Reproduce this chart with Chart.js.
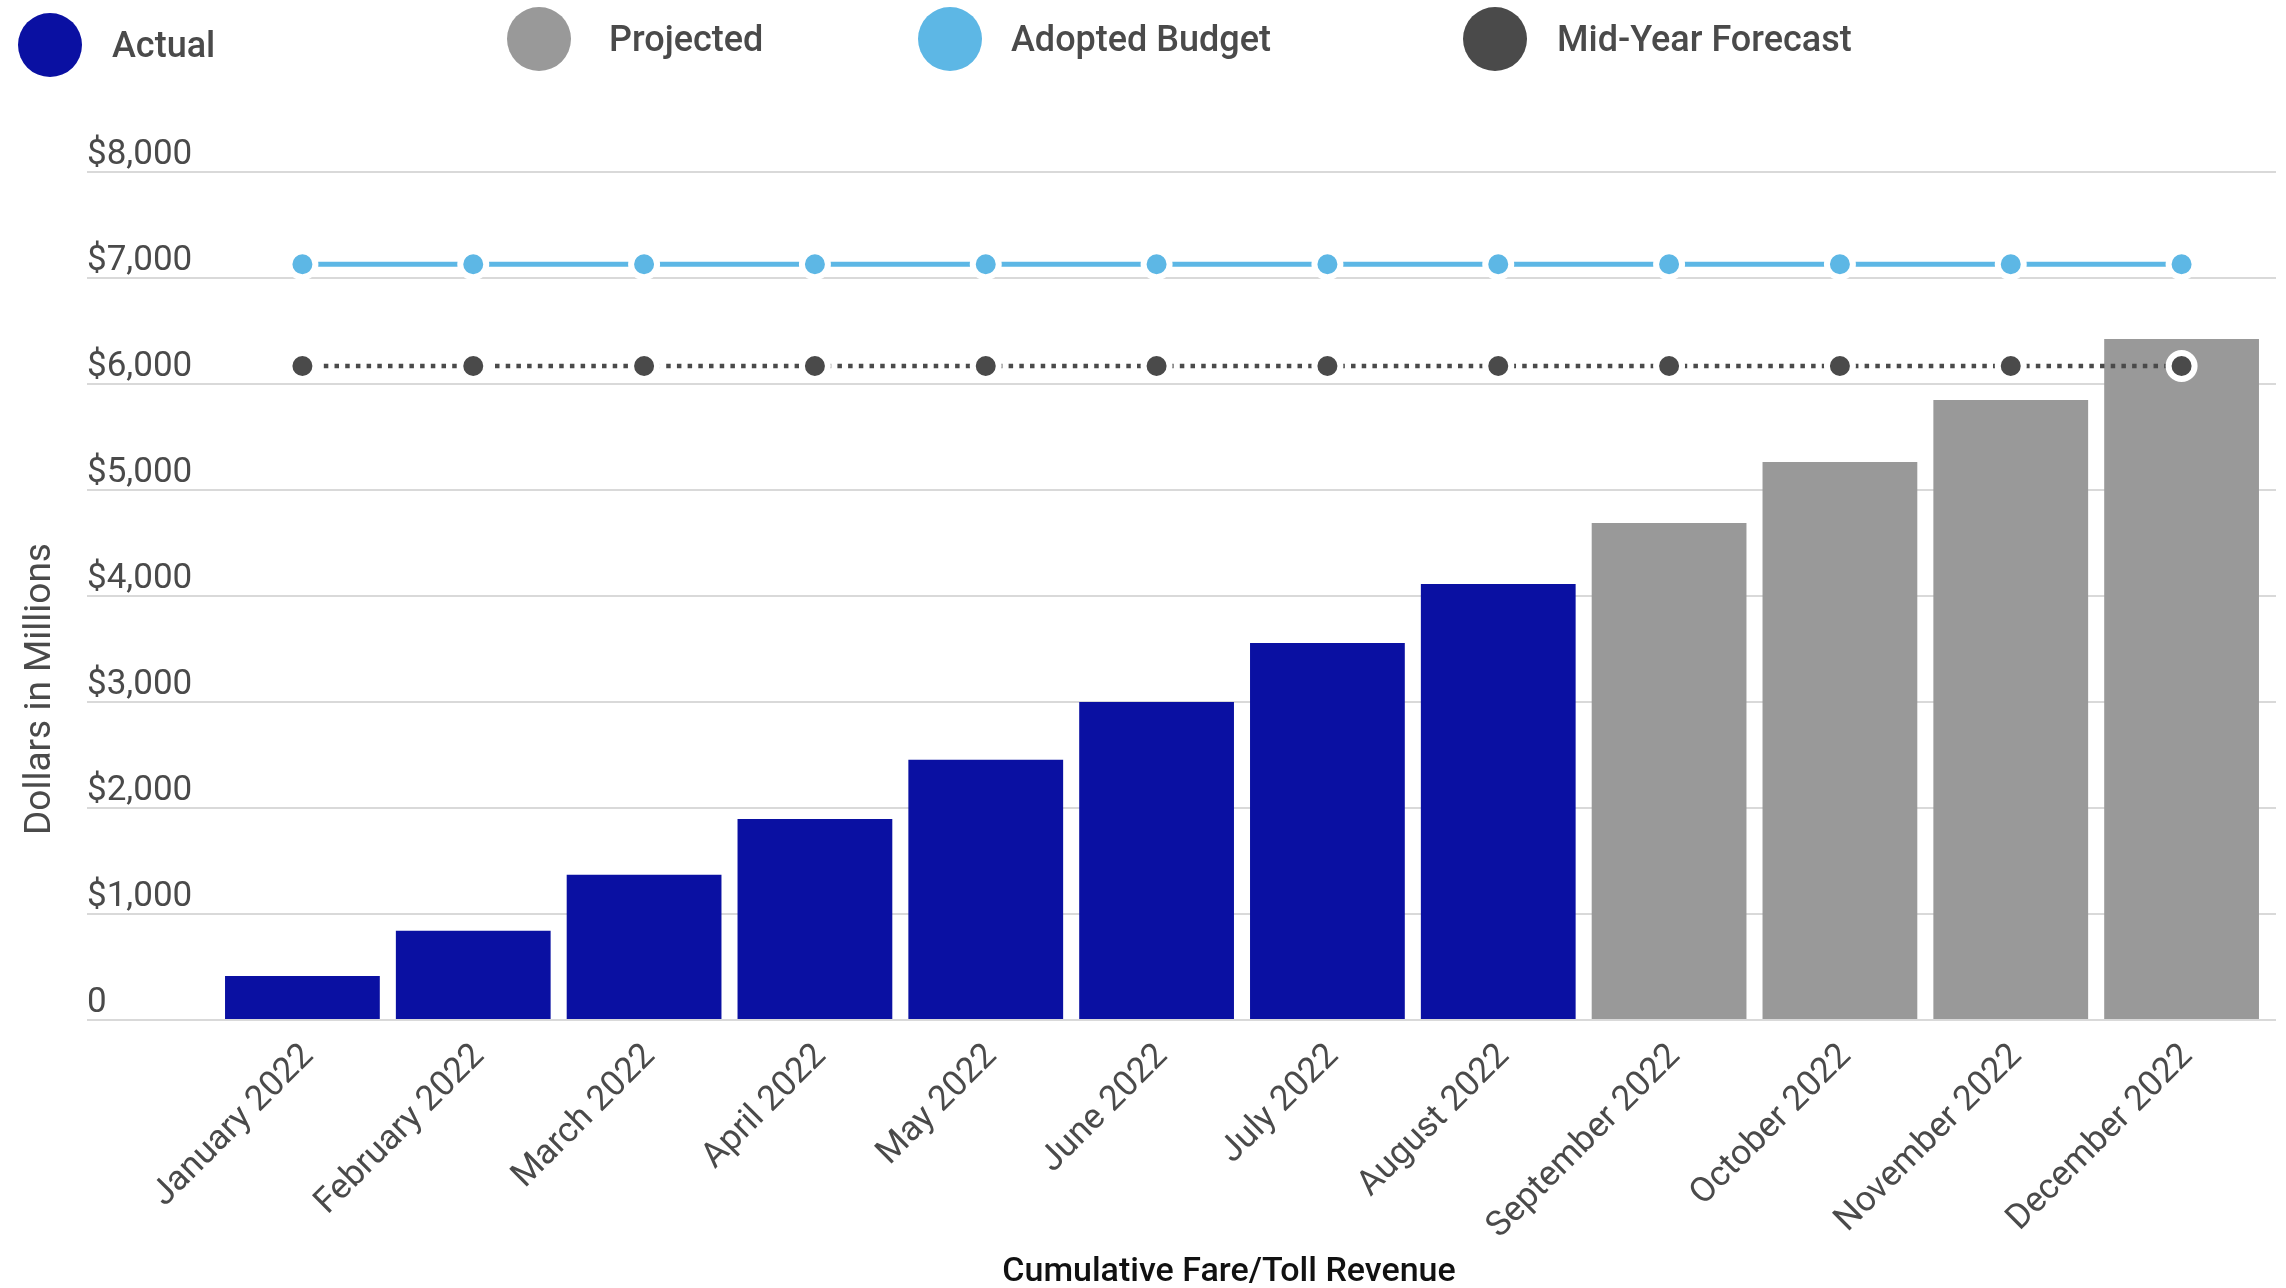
<!DOCTYPE html>
<html>
<head>
<meta charset="utf-8">
<title>Cumulative Fare/Toll Revenue</title>
<script src="https://cdn.jsdelivr.net/npm/chart.js@4.4.0/dist/chart.umd.min.js"></script>
<style>
  body { margin: 0; background: #fff; }
  .chart__wrap { position: relative; width: 2286px; height: 1288px; }
  .legend__item {
    position: absolute;
    display: flex;
    align-items: center;
    height: 64px;
    font: 500 36px Roboto, sans-serif;
    color: #4a4a4a;
    white-space: nowrap;
  }
  .legend__dot { width: 64px; height: 64px; border-radius: 50%; flex: none; }
</style>
</head>
<body>
<div class="chart__wrap">
  <div id="legend"></div>
  <canvas id="revenueChart"></canvas>
</div>
<script>
//////// Data ///////////////////
const months = [
  "January 2022",
  "February 2022",
  "March 2022",
  "April 2022",
  "May 2022",
  "June 2022",
  "July 2022",
  "August 2022",
  "September 2022",
  "October 2022",
  "November 2022",
  "December 2022",
];
const actual = [415, 843, 1371, 1896, 2456, 3000, 3557, 4113, null, null, null, null];
const projected = [null, null, null, null, null, null, null, null, 4689, 5264, 5849, 6425];
const adoptedBudget = [7130, 7130, 7130, 7130, 7130, 7130, 7130, 7130, 7130, 7130, 7130, 7130];
const midYearForecast = [6170, 6170, 6170, 6170, 6170, 6170, 6170, 6170, 6170, 6170, 6170, 6170];
const yTickValues = [0, 1000, 2000, 3000, 4000, 5000, 6000, 7000, 8000];

const textColor = "#4a4a4a";
const gridColor = "#d9d9d9";

//////// Legend (html, fixed slots) ///////////////////
const legendSlots = [
  { left: 18, top: 13, gap: 30 },
  { left: 507, top: 7, gap: 38 },
  { left: 918, top: 7, gap: 29 },
  { left: 1463, top: 7, gap: 30 },
];
// legend order differs from dataset draw order
const legendOrder = [2, 3, 0, 1];

const htmlLegend = {
  id: "htmlLegend",
  afterUpdate(chart) {
    const box = document.getElementById("legend");
    box.innerHTML = "";
    legendOrder.forEach((dsIndex, i) => {
      const ds = chart.data.datasets[dsIndex];
      const slot = legendSlots[i];
      const color = ds.type === "line" ? ds.borderColor : ds.backgroundColor;
      const item = document.createElement("div");
      item.className = "legend__item";
      item.style.left = slot.left + "px";
      item.style.top = slot.top + "px";
      item.innerHTML = `
        <span class="legend__dot" style="background:${color}"></span>
        <span style="margin-left:${slot.gap}px">${ds.label}</span>`;
      box.appendChild(item);
    });
  },
};

//////// Axis titles, placed by hand (not centred on the plot) ////////
const axisTitles = {
  id: "axisTitles",
  afterDraw(chart) {
    const ctx = chart.ctx;
    ctx.save();
    ctx.textAlign = "center";
    ctx.textBaseline = "middle";

    ctx.font = "500 34px Roboto";
    ctx.fillStyle = "#111111";
    ctx.fillText("Cumulative Fare/Toll Revenue", 1229, 1272);

    ctx.translate(41, 689);
    ctx.rotate(-Math.PI / 2);
    ctx.font = "400 37px Roboto";
    ctx.fillStyle = textColor;
    ctx.fillText("Dollars in Millions", 0, 0);
    ctx.restore();
  },
};

const pointStyle = (color) => ({
  pointRadius: 13,
  pointHoverRadius: 13,
  pointBorderWidth: 6,
  pointHoverBorderWidth: 6,
  pointBorderColor: "#ffffff",
  pointBackgroundColor: color,
});

const useTickValues = (axis) => {
  axis.ticks = yTickValues.map((v) => ({ value: v }));
};

const ctx = document.getElementById("revenueChart");
const revenueChart = new Chart(ctx, {
  data: {
    labels: months,
    datasets: [
      {
        type: "line",
        label: "Adopted Budget",
        data: adoptedBudget,
        borderColor: "#5db7e5",
        borderWidth: 5,
        tension: 0,
        order: 0,
        ...pointStyle("#5db7e5"),
      },
      {
        type: "line",
        label: "Mid-Year Forecast",
        data: midYearForecast,
        borderColor: "#4a4a4a",
        borderWidth: 4.5,
        borderDash: [4.5, 6.2],
        tension: 0,
        order: 0,
        ...pointStyle("#4a4a4a"),
      },
      {
        type: "bar",
        label: "Actual",
        data: actual,
        backgroundColor: "#0a10a2",
        order: 1,
      },
      {
        type: "bar",
        label: "Projected",
        data: projected,
        backgroundColor: "#999999",
        order: 1,
      },
    ],
  },
  options: {
    responsive: true,
    maintainAspectRatio: false,
    animation: false,
    datasets: {
      bar: {
        grouped: false,
        barPercentage: 0.906,
        categoryPercentage: 1,
      },
    },
    layout: {
      padding: { top: 172, left: 87, right: 5, bottom: 0 },
    },
    scales: {
      x: {
        grid: { display: false, drawTicks: false },
        border: { display: false },
        ticks: {
          color: textColor,
          font: { family: "Roboto", size: 35 },
          minRotation: 45,
          maxRotation: 45,
          padding: 16,
          labelOffset: 6,
          autoSkip: false,
        },
        afterFit(axis) {
          axis.height = 268;
        },
      },
      y: {
        min: 0,
        max: 8000,
        border: { display: false },
        grid: {
          color: gridColor,
          lineWidth: 2,
          tickLength: 130,
        },
        ticks: {
          color: textColor,
          font: { family: "Roboto", size: 35 },
          crossAlign: "far",
          padding: 0,
          labelOffset: -17,
          callback: (v) => (v === 0 ? "0" : "$" + v.toLocaleString("en-US")),
        },
        afterBuildTicks: useTickValues,
        afterFit(axis) {
          axis.width = 130;
        },
      },
      // thin right-hand axis: only carries the gridlines a few px past the bars
      yEdge: {
        position: "right",
        min: 0,
        max: 8000,
        border: { display: false },
        grid: {
          color: gridColor,
          lineWidth: 2,
          tickLength: 9,
          drawOnChartArea: false,
        },
        ticks: { display: false },
        afterBuildTicks: useTickValues,
        afterFit(axis) {
          axis.width = 9;
        },
      },
    },
    plugins: {
      legend: { display: false },
      tooltip: { enabled: false },
    },
  },
  plugins: [htmlLegend, axisTitles],
});
</script>
</body>
</html>
